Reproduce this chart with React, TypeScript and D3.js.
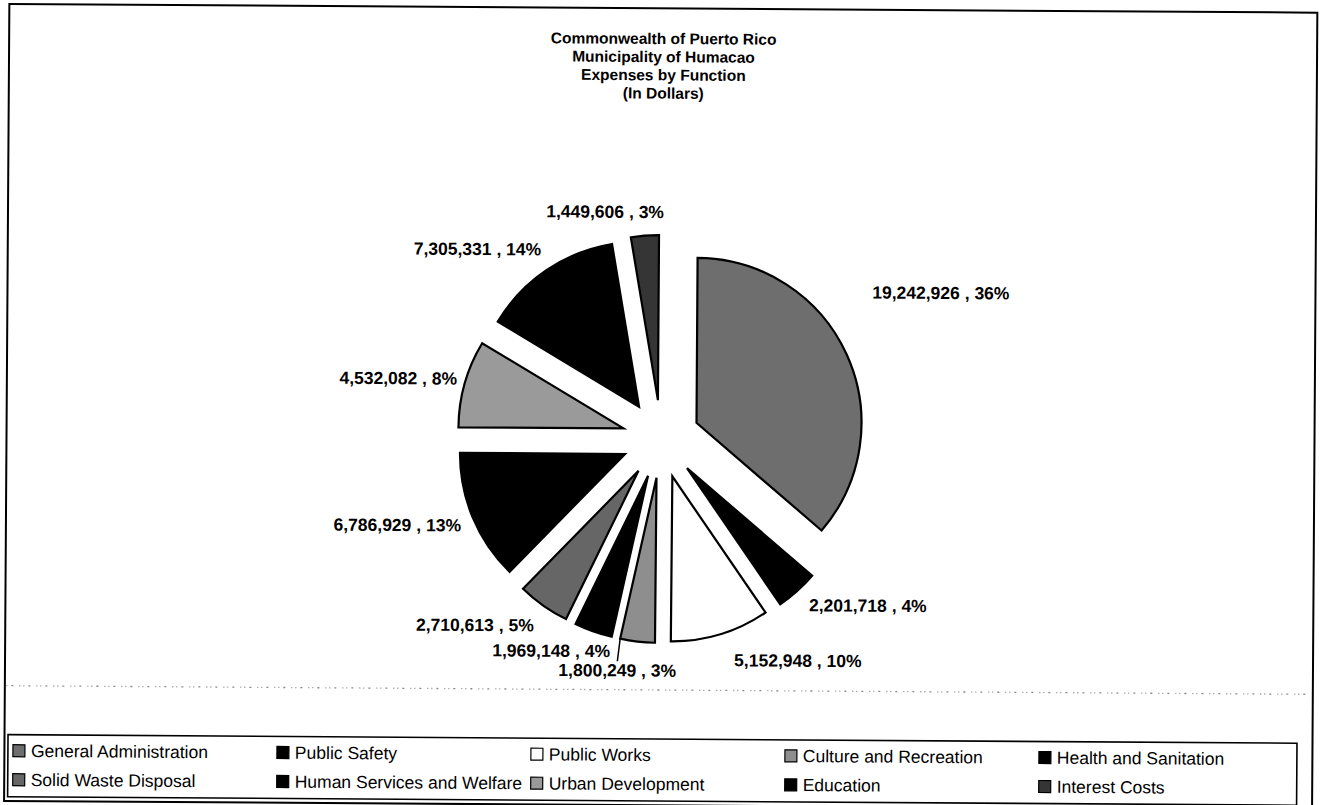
import React from "react";
import * as d3 from "d3";

const categories = [
  "General Administration",
  "Public Safety",
  "Public Works",
  "Culture and Recreation",
  "Health and Sanitation",
  "Solid Waste Disposal",
  "Human Services and Welfare",
  "Urban Development",
  "Education",
  "Interest Costs",
];
const values = [19242926, 2201718, 5152948, 1800249, 1969148, 2710613, 6786929, 4532082, 7305331, 1449606];
const percentLabels = [36, 4, 10, 3, 4, 5, 13, 8, 14, 3];
const titleLines = ["Commonwealth of Puerto Rico", "Municipality of Humacao", "Expenses by Function", "(In Dollars)"];

// styles (not data)
const fills = ["#6e6e6e", "#000000", "#ffffff", "#8e8e8e", "#000000", "#666666", "#000000", "#9a9a9a", "#000000", "#353535"];
// manual label nudges relative to the polar anchor (Excel "best fit" placement)
const labelNudge: [number, number][] = [
  [52, -43], [40, -20], [64, -18], [-15, -17], [-27, -24],
  [-42, -18], [-33, -10], [-22, 7], [-43, 17], [-36, 22],
];
const legendCols = [15, 279, 533, 787, 1041];

const W = 1323;
const H = 805;
const cx = 661;
const cy = 439;
const R = 165;
const EXPLODE = 39;
const LABEL_R = 250;
const SKEW = 0.38; // the reference is a slightly rotated scan
const FONT = "'Liberation Sans', Arial, sans-serif";

export default function App() {
  const pie = d3.pie<number>().sort(null).value((d) => d)(values);
  const arc = d3.arc<d3.PieArcDatum<number>>().innerRadius(0).outerRadius(R);
  const fmt = d3.format(",");
  const legendY = d3.scaleLinear().domain([0, 1]).range([755, 784]);

  return (
    <svg width={W} height={H} style={{ position: "absolute", left: 0, top: 0, background: "#fff" }}>
      <rect x={0} y={0} width={W} height={H} fill="#fff" />
      <g transform={`rotate(${SKEW},${cx},${cy})`}>
        {/* outer chart border */}
        <rect x={6.5} y={8.3} width={1308} height={797} fill="none" stroke="#000" strokeWidth={2} />
        {/* faded plot-area bottom edge */}
        <line x1={8} x2={1313} y1={690} y2={690} stroke="#888" strokeWidth={1.3} strokeDasharray="1 4 2 6 1 3" />

        {titleLines.map((t, i) => (
          <text key={i} x={cx} y={44 + i * 18.2} textAnchor="middle" fontFamily={FONT} fontWeight="bold" fontSize={15.5}>
            {t}
          </text>
        ))}

        {pie.map((p, i) => {
          const mid = (p.startAngle + p.endAngle) / 2;
          const dx = Math.sin(mid) * EXPLODE;
          const dy = -Math.cos(mid) * EXPLODE;
          return (
            <path
              key={i}
              d={arc(p) || ""}
              transform={`translate(${cx + dx},${cy + dy})`}
              fill={fills[i]}
              stroke="#000"
              strokeWidth={2.2}
              strokeLinejoin="miter"
            />
          );
        })}

        {pie.map((p, i) => {
          const mid = (p.startAngle + p.endAngle) / 2;
          const lx = cx + Math.sin(mid) * LABEL_R + labelNudge[i][0];
          const ly = cy - Math.cos(mid) * LABEL_R + labelNudge[i][1];
          const label = `${fmt(values[i])} , ${percentLabels[i]}%`;
          let leader = null;
          if (i === 3) {
            const ox = cx + Math.sin(mid) * EXPLODE + Math.sin(p.endAngle) * R;
            const oy = cy - Math.cos(mid) * EXPLODE - Math.cos(p.endAngle) * R;
            leader = <line x1={lx} y1={ly - 9} x2={ox} y2={oy} stroke="#000" strokeWidth={1.5} />;
          }
          return (
            <g key={i}>
              {leader}
              <text x={lx} y={ly} dy="0.35em" textAnchor="middle" fontFamily={FONT} fontWeight="bold" fontSize={17.5}>
                {label}
              </text>
            </g>
          );
        })}

        {/* legend */}
        <rect x={10} y={739} width={1289} height={62} fill="#fff" stroke="#000" strokeWidth={1.6} />
        {categories.map((c, i) => {
          const col = i % 5;
          const row = Math.floor(i / 5);
          const x = legendCols[col];
          const y = legendY(row);
          return (
            <g key={i}>
              <rect x={x} y={y - 6} width={12} height={12} fill={fills[i]} stroke="#000" strokeWidth={1.2} />
              <text x={x + 18} y={y} dy="0.35em" fontFamily={FONT} fontSize={17.5}>
                {c}
              </text>
            </g>
          );
        })}
      </g>
    </svg>
  );
}
